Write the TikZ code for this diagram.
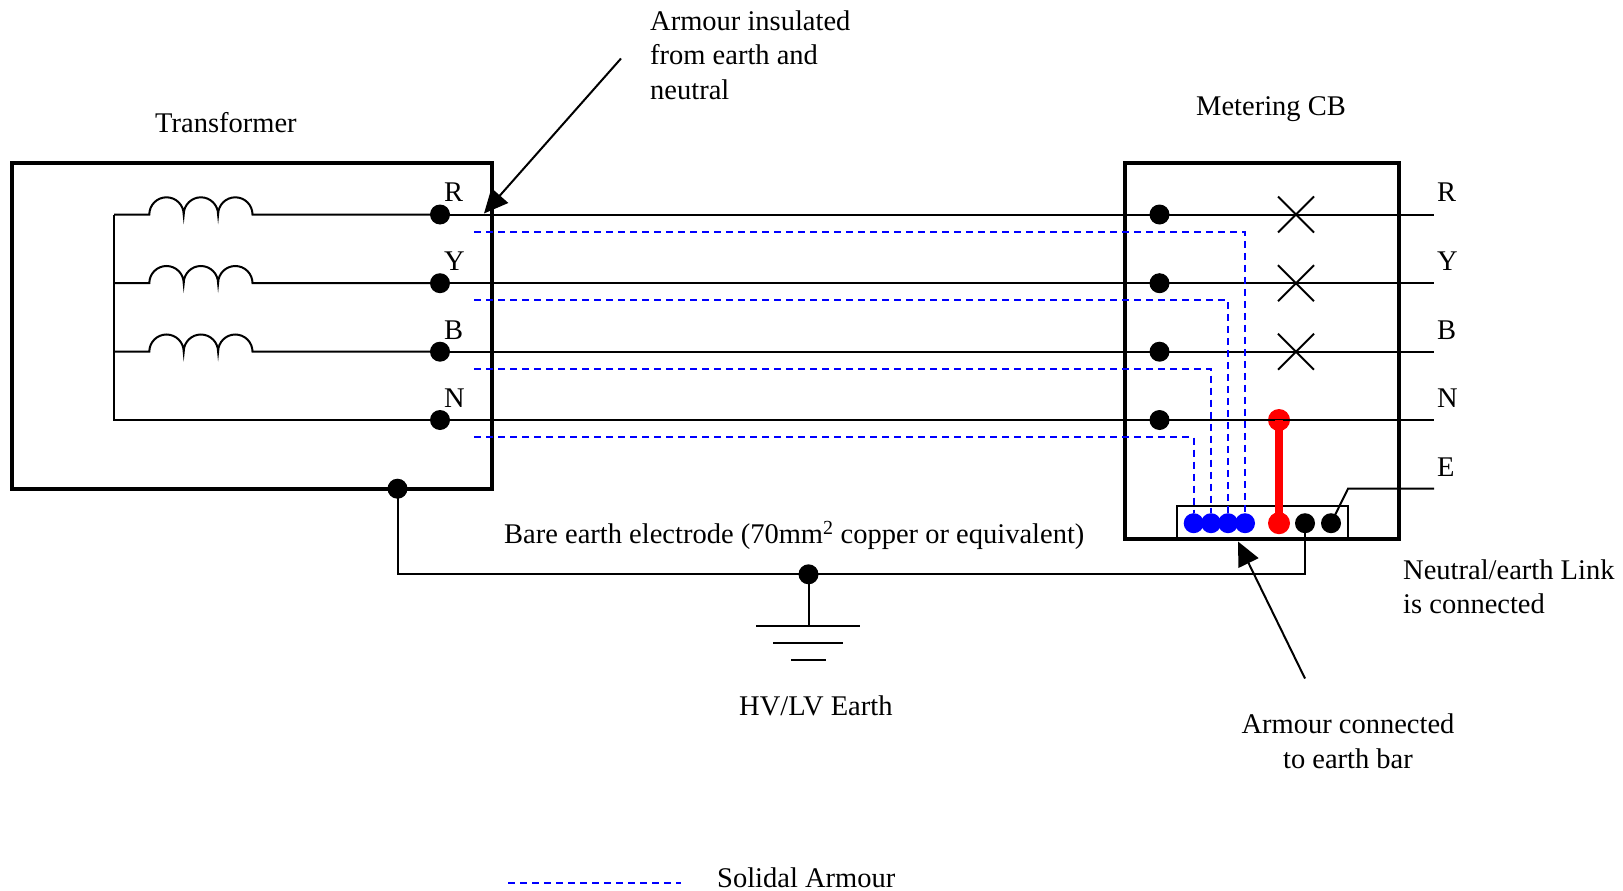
\documentclass[tikz,border=0pt]{standalone}
\usepackage{fontspec}
\setmainfont{Liberation Serif}
\usetikzlibrary{arrows.meta}
\tikzset{
  x=1pt,y=-1pt,
  wire/.style={line width=2pt,black},
  boxline/.style={line width=4pt,black,line join=miter,outer sep=0pt},
  barbox/.style={line width=2pt,black,outer sep=0pt},
  armour/.style={line width=1.7pt,blue,dash pattern=on 7pt off 5pt},
  link/.style={line width=7.5pt,red},
  pointer/.style={line width=2pt,black,-{Triangle[length=24pt,width=22pt]}},
  blackdot/.style={circle,fill=black,inner sep=0pt,minimum size=20pt},
  bluedot/.style={circle,fill=blue,inner sep=0pt,minimum size=20pt},
  reddot/.style={circle,fill=red,inner sep=0pt,minimum size=22pt},
  lbl/.style={inner sep=0pt,font=\fontsize{28.5pt}{34.5pt}\selectfont,align=left,anchor=north west},
  lblc/.style={inner sep=0pt,font=\fontsize{28.5pt}{34.5pt}\selectfont,align=center,anchor=north},
}
\newcommand{\coilrow}[3]{%
  \coordinate (c#1) at (149.3,#2);
  \coordinate (d#1) at (252.5,#2);
  \draw[wire] (114,#2) -- (c#1) arc[start angle=180,end angle=0,radius=17.2pt]
     arc[start angle=180,end angle=0,radius=17.2pt]
     arc[start angle=180,end angle=0,radius=17.2pt] -- (#3);
}
\begin{document}
\begin{tikzpicture}
\useasboundingbox (0,0) rectangle (1623,891);
% boxes
\node[draw,boxline,inner sep=0pt,minimum width=480pt,minimum height=326.5pt,anchor=north west] (tx) at (12,162.5) {};
\node[draw,boxline,inner sep=0pt,minimum width=274pt,minimum height=376.5pt,anchor=north west] (cb) at (1125,162.5) {};
\node[draw,barbox,inner sep=0pt,minimum width=171.5pt,minimum height=33.5pt,anchor=north west] (bar) at (1176.5,505.7) {};
% terminal dots
\node[blackdot] (tr) at (440,214.5) {};
\node[blackdot] (ty) at (440,283.2) {};
\node[blackdot] (tb) at (440,351.7) {};
\node[blackdot] (tn) at (440,420) {};
\node[blackdot] (mr) at (1159.5,214.5) {};
\node[blackdot] (my) at (1159.5,283.2) {};
\node[blackdot] (mb) at (1159.5,351.7) {};
\node[blackdot] (mn) at (1159.5,420) {};
\node[blackdot] (te) at (397.5,488.7) {};
\node[blackdot] (ee) at (808.5,574.3) {};
\node[bluedot] (b1) at (1193.7,523.2) {};
\node[bluedot] (b2) at (1211,523.2) {};
\node[bluedot] (b3) at (1228,523.2) {};
\node[bluedot] (b4) at (1245,523.2) {};
\node[reddot] (rt) at (1279,420) {};
\node[reddot] (rb) at (1279,523.2) {};
\node[blackdot] (k1) at (1305,523.2) {};
\node[blackdot] (k2) at (1331,523.2) {};
% free ends
\coordinate (er) at (1434,214.5);
\coordinate (ey) at (1434,283.2);
\coordinate (eb) at (1434,351.7);
\coordinate (en) at (1434,420);
\coordinate (ee1) at (1434,488.7);
\coordinate (ee2) at (1348,488.7);
% windings and bus
\coilrow{r}{214.5}{tr.center}
\coilrow{y}{283.2}{ty.center}
\coilrow{b}{351.7}{tb.center}
\draw[wire] (114,214.5) -- (114,420) -- (tn.center);
% phase lines
\draw[wire] (tr.center) -- (mr.center) -- (er);
\draw[wire] (ty.center) -- (my.center) -- (ey);
\draw[wire] (tb.center) -- (mb.center) -- (eb);
\draw[wire] (tn.center) -- (mn.center) -- (en);
% breakers
\foreach \yy in {214.5,283.2,351.7}{
  \draw[wire] (1278,\yy-18) -- (1314,\yy+18);
  \draw[wire] (1278,\yy+18) -- (1314,\yy-18);
}
% armour
\draw[armour] (474,231.8) -- (1245,231.8) -- (b4.north);
\draw[armour] (474,300.2) -- (1228,300.2) -- (b3.north);
\draw[armour] (474,368.7) -- (1211,368.7) -- (b2.north);
\draw[armour] (474,437.2) -- (1193.7,437.2) -- (b1.north);
% link
\draw[link] (rt.center) -- (rb.center);
% earth
\draw[wire] (te.center) |- (ee.center) -| (k1.center);
\draw[wire] (ee.center) -- (808.5,626);
\draw[wire] (756,626) -- (860,626);
\draw[wire] (773,643) -- (843,643);
\draw[wire] (791,660) -- (826,660);
\draw[wire] (ee1) -- (ee2) -- (k2.center);
% pointers
\coordinate (p1) at (621,58.5);
\coordinate (p1t) at (484,213.5);
\coordinate (p2) at (1305,678.5);
\coordinate (p2t) at (1238,541.5);
\draw[pointer] (p1) -- (p1t);
\draw[pointer] (p2) -- (p2t);
% labels
\node[lbl] (l1) at (650,10.5) {Armour insulated\\from earth and\\neutral};
\node[lbl] (l2) at (155,112.5) {Transformer};
\node[lbl] (l3) at (1196,96) {Metering CB};
\node[lbl] at (444,182.5) {R};
\node[lbl] at (444,251.5) {Y};
\node[lbl] at (444,320.5) {B};
\node[lbl] at (444,388.5) {N};
\node[lbl] at (1437,182.5) {R};
\node[lbl] at (1437,251.5) {Y};
\node[lbl] at (1437,320.5) {B};
\node[lbl] at (1437,388.5) {N};
\node[lbl] at (1437,457.5) {E};
\node[lbl] (l4) at (504,521.5) {Bare earth electrode (70mm\textsuperscript{2} copper or equivalent)};
\node[lbl] (l5) at (739,696) {HV/LV Earth};
\node[lbl] (l6) at (1403,559.5) {Neutral/earth Link\\is connected};
\node[lblc] (l7) at (1348,714) {Armour connected\\to earth bar};
% legend
\coordinate (la) at (508,883);
\coordinate (lb) at (681,883);
\draw[armour] (la) -- (lb);
\node[lbl] (l8) at (717,868) {Solidal Armour};
\end{tikzpicture}
\end{document}
